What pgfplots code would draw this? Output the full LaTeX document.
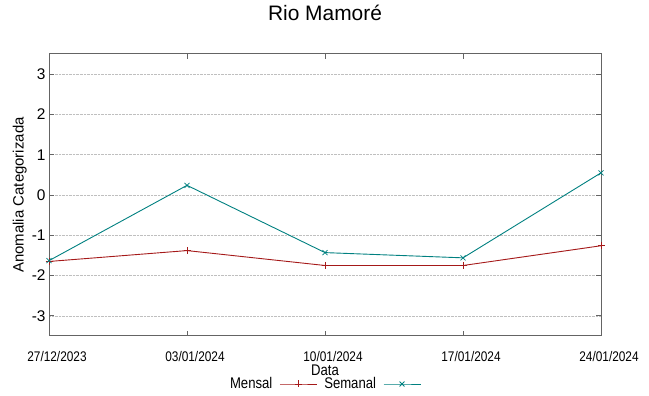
\documentclass[border=0pt]{standalone}
\usepackage{graphicx}
\usepackage{fontspec}
\setmainfont{Liberation Sans}
\usepackage{pgfplots}
\pgfplotsset{compat=1.18}
\definecolor{mensal}{RGB}{165,25,25}
\definecolor{semanal}{RGB}{0,128,128}
\definecolor{frame}{RGB}{100,100,100}
\newcommand\nar[1]{\scalebox{0.85}[1]{#1}}
\begin{document}
\begin{tikzpicture}
\begin{axis}[
  scale only axis,
  width=552bp, height=282bp,
  xmin=0, xmax=4, ymin=-3.5, ymax=3.5,
  xtick={0,1,2,3,4},
  xticklabels={\nar{27/12/2023},\nar{03/01/2024},\nar{10/01/2024},\nar{17/01/2024},\nar{24/01/2024}},
  ytick={-3,-2,-1,0,1,2,3},
  /pgf/number format/assume math mode=true,
  tick align=inside,
  major tick length=5bp,
  axis line style={frame, line width=1bp},
  every tick/.style={frame, line width=0.8bp},
  ymajorgrids,
  major grid style={densely dotted, gray!50, line width=0.7bp},
  xticklabel style={font=\fontsize{14}{16}\selectfont, anchor=base, yshift=-25.7bp, xshift=8bp},
  yticklabel style={font=\fontsize{15.5}{18}\selectfont},
  title={Rio Mamoré},
  title style={font=\fontsize{21}{24}\selectfont, at={(axis description cs:0.5,1)}, anchor=base, yshift=27.3bp},
  xlabel={\nar{Data}},
  xlabel style={font=\fontsize{15.5}{18}\selectfont, at={(axis description cs:0.5,0)}, anchor=base, yshift=-39.7bp},
  ylabel={Anomalia Categorizada},
  ylabel style={font=\fontsize{15}{18}\selectfont, at={(axis description cs:-0.053,0.5)}, anchor=center},
  legend plot pos=right,
  legend columns=2,
  legend style={at={(axis description cs:0.5,0)}, anchor=center, yshift=-48bp, draw=none, fill=none,
    font=\fontsize{15.5}{18}\selectfont, column sep=6bp, nodes={inner sep=1bp}},
  legend image code/.code={\draw[mark repeat=2,mark phase=2] plot coordinates {(0bp,0bp) (18.5bp,0bp) (37bp,0bp)};},
]
\addplot[mensal, line width=0.9bp, mark=+, mark size=3.5bp, mark options={line width=0.8bp}] coordinates {
  (0,-1.65) (1,-1.38) (2,-1.75) (3,-1.75) (4,-1.26)
};
\addlegendentry{\nar{Mensal}}
\addplot[semanal, line width=0.9bp, mark=x, mark size=3.5bp, mark options={line width=0.8bp}] coordinates {
  (0,-1.63) (1,0.24) (2,-1.43) (3,-1.56) (4,0.55)
};
\addlegendentry{\nar{Semanal}}
\end{axis}
\pgfresetboundingbox
\path[use as bounding box] ([xshift=-49bp,yshift=-60bp]current axis.south west) rectangle ([xshift=48bp,yshift=54bp]current axis.north east);
\end{tikzpicture}
\end{document}
